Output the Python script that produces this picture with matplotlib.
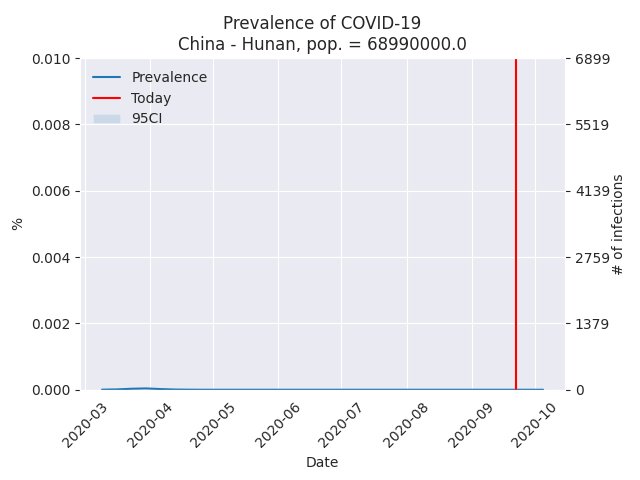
import numpy as np
import pandas as pd
import matplotlib
matplotlib.use('Agg')
import matplotlib.pyplot as plt
import matplotlib.dates as mdates
import seaborn as sns

#population of the region
pop = 68990000.0
region = 'China - Hunan'

#weekly dates of the estimate
dates = pd.date_range('2020-03-09', '2020-10-05', freq='7D')

#prevalence estimate (%) and its 95% CI
prev = [0.000003, 0.00001, 0.00003, 0.00004, 0.00002, 0.000006, 0.000002,
        0.0, 0.0, 0.0, 0.0, 0.0, 0.0, 0.0, 0.0, 0.0, 0.0, 0.0, 0.0, 0.0,
        0.0, 0.0, 0.0, 0.0, 0.0, 0.0, 0.0, 0.0, 0.0, 0.0, 0.0]
prev_lo = [0.0, 0.000005, 0.00002, 0.00003, 0.00001, 0.000003, 0.0,
           0.0, 0.0, 0.0, 0.0, 0.0, 0.0, 0.0, 0.0, 0.0, 0.0, 0.0, 0.0, 0.0,
           0.0, 0.0, 0.0, 0.0, 0.0, 0.0, 0.0, 0.0, 0.0, 0.0, 0.0]
prev_hi = [0.000006, 0.00002, 0.00005, 0.00006, 0.00003, 0.00001, 0.000004,
           0.0, 0.0, 0.0, 0.0, 0.0, 0.0, 0.0, 0.0, 0.0, 0.0, 0.0, 0.0, 0.0,
           0.0, 0.0, 0.0, 0.0, 0.0, 0.0, 0.0, 0.0, 0.0, 0.0, 0.0]

today = pd.Timestamp('2020-09-22')

left_ticks = [0.0, 0.002, 0.004, 0.006, 0.008, 0.010]

sns.set_style('darkgrid')

fig, ax = plt.subplots(figsize=(6.4, 4.8), dpi=100)
fig.subplots_adjust(left=0.125, right=0.883, top=0.879, bottom=0.188)

ax.plot(dates, prev, label='Prevalence')
ax.axvline(today, color='red', label='Today')
ax.fill_between(dates, prev_lo, prev_hi, alpha=0.15, label='95CI')

ax.set_ylim(0, 0.01)
ax.set_yticks(left_ticks)
ax.set_xlabel('Date')
ax.set_ylabel('%')
ax.set_title('Prevalence of COVID-19\n%s, pop. = %s' % (region, pop))
ax.xaxis.set_major_locator(mdates.MonthLocator())
ax.xaxis.set_major_formatter(mdates.DateFormatter('%Y-%m'))
plt.setp(ax.get_xticklabels(), rotation=45)
ax.legend(loc='upper left', frameon=False)

#secondary axis with number of infections
ax2 = ax.twinx()
ax2.grid(False)
ax2.set_ylim(0, 0.01 * pop / 100)
ax2.set_yticks([t * pop / 100 for t in left_ticks])
ax2.set_yticklabels([str(int(t * pop / 100)) for t in left_ticks])
ax2.set_ylabel('# of infections', labelpad=1)

fig.savefig('out.png')
